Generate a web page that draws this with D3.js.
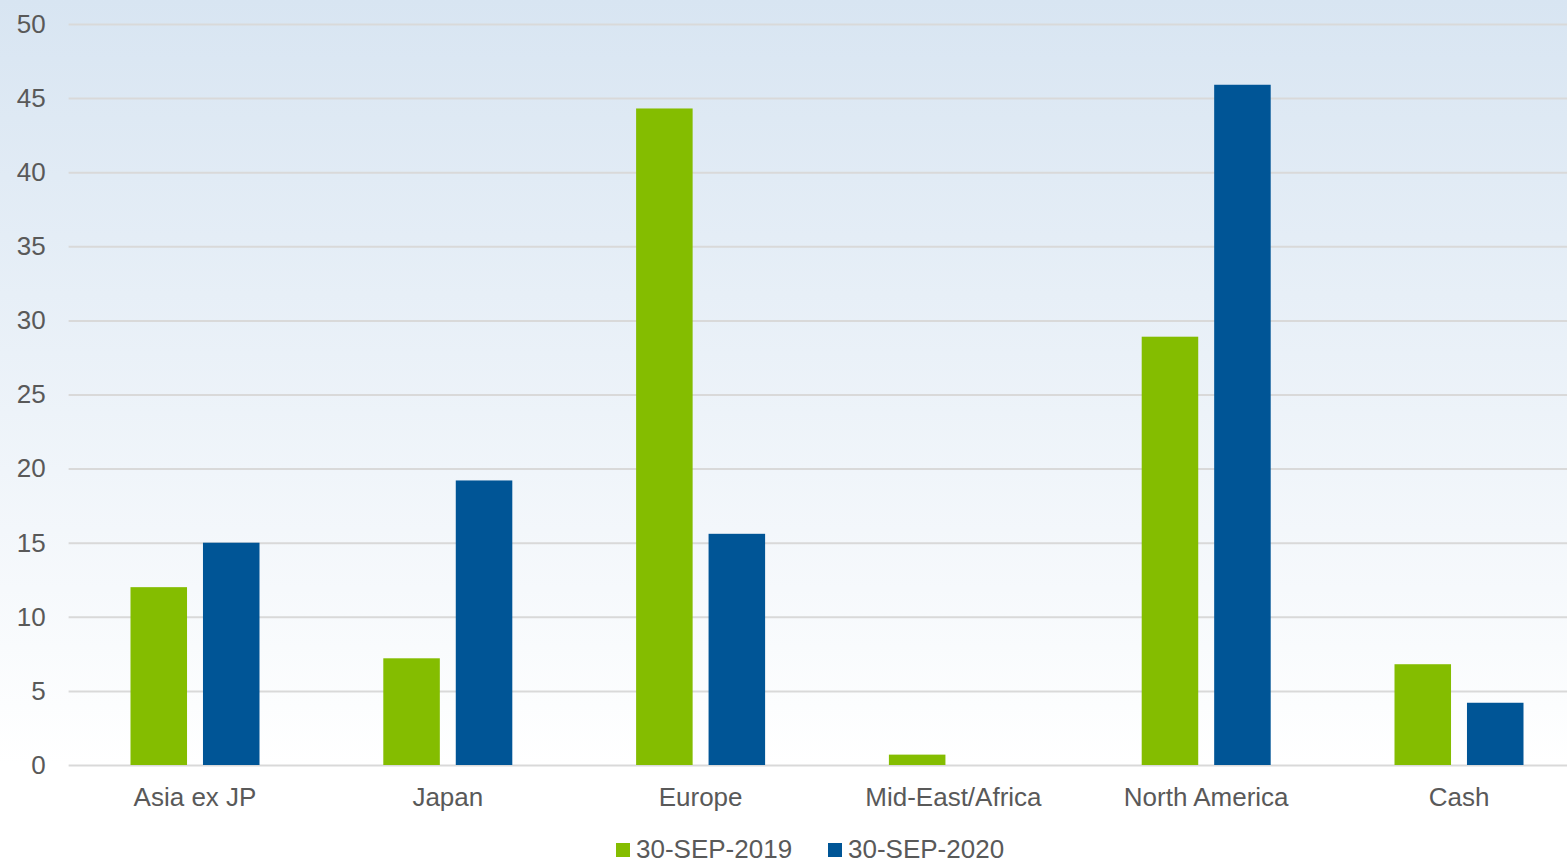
<!DOCTYPE html>
<html>
<head>
<meta charset="utf-8">
<script src="https://cdn.jsdelivr.net/npm/d3@7"></script>
<style>
  body { margin: 0; background: #fff; }
  svg { display: block; font-family: "Liberation Sans", Arial, sans-serif; }
</style>
</head>
<body>
<svg id="chart"></svg>
<script>
// chart data
const regions = ['Asia ex JP', 'Japan', 'Europe', 'Mid-East/Africa', 'North America', 'Cash'];
const seriesNames = ['30-SEP-2019', '30-SEP-2020'];
const values2019 = [12.0, 7.2, 44.3, 0.7, 28.9, 6.8];
const values2020 = [15.0, 19.2, 15.6, 0, 45.9, 4.2];
const yTicks = [0, 5, 10, 15, 20, 25, 30, 35, 40, 45, 50];
const colors = ['#84bd00', '#005596'];

const width = 1567, height = 864;
const plot = { left: 68.6, right: 1585.4, top: 24, bottom: 765 };

const svg = d3.select('#chart')
    .attr('width', width)
    .attr('height', height);

// background gradient (light blue on top fading to white)
const defs = svg.append('defs');
const grad = defs.append('linearGradient')
    .attr('id', 'bg')
    .attr('x1', 0).attr('y1', 0).attr('x2', 0).attr('y2', 1);
grad.append('stop').attr('offset', '0%').attr('stop-color', '#d8e5f2');
grad.append('stop').attr('offset', '100%').attr('stop-color', '#ffffff');

svg.append('rect')
    .attr('x', 0).attr('y', 0)
    .attr('width', width).attr('height', plot.bottom)
    .attr('fill', 'url(#bg)');

// scales
const x0 = d3.scaleBand()
    .domain(regions)
    .range([plot.left, plot.right])
    .padding(0);

const groupW = 129;
const x1 = d3.scaleBand()
    .domain(seriesNames)
    .range([x0.bandwidth() / 2 - groupW / 2, x0.bandwidth() / 2 + groupW / 2])
    .paddingInner(0.22);

const y = d3.scaleLinear()
    .domain([0, 50])
    .range([plot.bottom, plot.top]);

// gridlines + y labels
const yAxisG = svg.append('g')
    .attr('transform', `translate(${plot.left},0)`)
    .call(d3.axisLeft(y)
        .tickValues(yTicks)
        .tickSize(-(width - plot.left))
        .tickPadding(23)
    )
    .call(g => g.select('.domain').remove());
yAxisG.selectAll('line')
    .attr('stroke', '#d9d9d9')
    .attr('stroke-width', 2);
yAxisG.selectAll('.tick text')
    .attr('fill', '#595959')
    .style('font-size', '26px')
    .style('font-family', '"Liberation Sans", Arial, sans-serif');

// bars
const rows = regions.map((r, i) => ({ region: r, vals: [values2019[i], values2020[i]] }));

const groups = svg.selectAll('.group')
    .data(rows)
    .enter()
    .append('g')
    .attr('class', 'group')
    .attr('transform', d => `translate(${x0(d.region)},0)`);

groups.selectAll('rect')
    .data(d => d.vals.map((v, j) => ({ series: seriesNames[j], value: v, idx: j })))
    .enter()
    .append('rect')
    .filter(d => d.value > 0)
    .attr('x', d => x1(d.series))
    .attr('width', x1.bandwidth())
    .attr('y', d => y(d.value))
    .attr('height', d => y(0) - y(d.value))
    .attr('fill', d => colors[d.idx]);

// x axis labels
const xAxisG = svg.append('g')
    .attr('transform', `translate(0,${plot.bottom})`)
    .call(d3.axisBottom(x0).tickSize(0).tickPadding(23))
    .call(g => g.select('.domain').remove());
xAxisG.selectAll('.tick text')
    .attr('fill', '#595959')
    .style('font-size', '26px')
    .style('font-family', '"Liberation Sans", Arial, sans-serif');

// legend
const legendItems = [
    { name: seriesNames[0], color: colors[0], x: 616 },
    { name: seriesNames[1], color: colors[1], x: 828 }
];
const legend = svg.append('g');
legendItems.forEach(item => {
    legend.append('rect')
        .attr('x', item.x).attr('y', 843)
        .attr('width', 14).attr('height', 14)
        .attr('fill', item.color);
    legend.append('text')
        .attr('x', item.x + 20)
        .attr('y', 858)
        .attr('fill', '#595959')
        .style('font-size', '26px')
        .text(item.name);
});
</script>
</body>
</html>
